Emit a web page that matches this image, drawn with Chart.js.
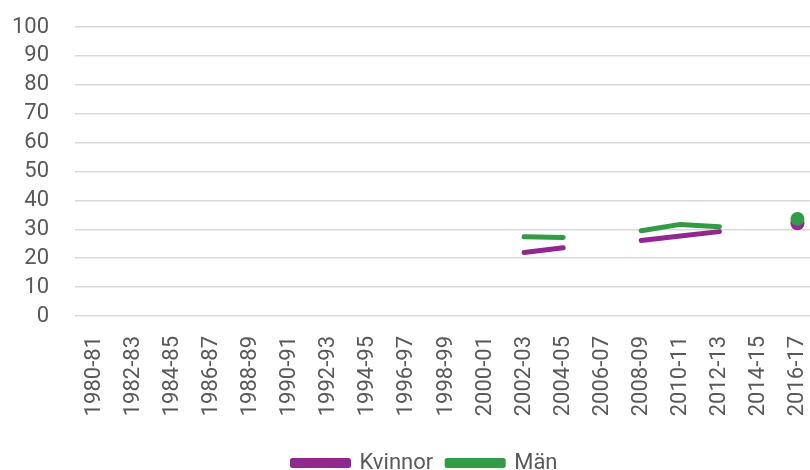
<!DOCTYPE html>
<html>
<head>
<meta charset="utf-8">
<script src="https://cdn.jsdelivr.net/npm/chart.js@4.4.1/dist/chart.umd.min.js"></script>
<style>
  html, body { margin: 0; padding: 0; background: #fff; overflow: hidden; }
  canvas { display: block; }
</style>
</head>
<body>
<canvas id="main-chart" width="824" height="484"></canvas>
<script>
// Kategorier (läsår) och värden per serie
const labels = ['1980-81', '1982-83', '1984-85', '1986-87', '1988-89', '1990-91', '1992-93', '1994-95',
    '1996-97', '1998-99', '2000-01', '2002-03', '2004-05', '2006-07', '2008-09', '2010-11', '2012-13',
    '2014-15', '2016-17'];
const kvinnor = [null, null, null, null, null, null, null, null, null, null, null, 22.0, 23.6, null, 26.1, 27.7, 29.2, null, 32.1];
const man = [null, null, null, null, null, null, null, null, null, null, null, 27.4, 27.2, null, 29.5, 31.7, 30.9, null, 33.6];
const yTicks = [0, 10, 20, 30, 40, 50, 60, 70, 80, 90, 100];

const textColor = '#595959';
const gridColor = '#d9d9d9';
const fontFamily = 'Roboto';

// Visa punkt bara där värdet saknar grannar (isolerad punkt)
function isolatedRadius(ctx) {
    const d = ctx.dataset.data;
    const i = ctx.dataIndex;
    if (d[i] == null) return 0;
    const prev = i > 0 ? d[i - 1] : null;
    const next = i < d.length - 1 ? d[i + 1] : null;
    return (prev == null && next == null) ? 7 : 0;
}

function makeSet(label, data, color, order) {
    return {
        label: label,
        data: data,
        order: order,
        borderColor: color,
        backgroundColor: color,
        borderWidth: 5,
        borderCapStyle: 'round',
        borderJoinStyle: 'round',
        tension: 0,
        spanGaps: false,
        pointRadius: isolatedRadius,
        pointHoverRadius: isolatedRadius,
        pointBorderWidth: 0
    };
}

// Flytta legenden lite åt höger, som i originalet
const legendShift = {
    id: 'legendShift',
    afterLayout(chart) {
        if (chart.legend) {
            chart.legend.left += 14;
            chart.legend.right += 14;
        }
    }
};

const ctx = document.getElementById('main-chart').getContext('2d');
new Chart(ctx, {
    type: 'line',
    data: {
        labels: labels,
        datasets: [
            makeSet('Kvinnor', kvinnor, '#92278f', 1),
            makeSet('Män', man, '#339a46', 0)   // ritas ovanpå
        ]
    },
    plugins: [legendShift],
    options: {
        responsive: false,
        animation: false,
        layout: { padding: { left: 0, right: 2, top: 27, bottom: 0 } },
        scales: {
            y: {
                min: 0,
                max: 100,
                afterBuildTicks: (axis) => { axis.ticks = yTicks.map(v => ({ value: v })); },
                afterFit: (axis) => { axis.width = 75; axis.paddingTop = 0; axis.paddingBottom = 0; },
                ticks: { color: textColor, padding: 26, autoSkip: false, font: { family: fontFamily, size: 22 } },
                grid: { color: gridColor, lineWidth: 1.5, drawTicks: false },
                border: { display: false }
            },
            x: {
                offset: true,
                afterFit: (axis) => { axis.height = 122; axis.paddingLeft = 0; axis.paddingRight = 0; },
                ticks: {
                    color: textColor,
                    minRotation: 90,
                    maxRotation: 90,
                    autoSkip: false,
                    padding: 20,
                    font: { family: fontFamily, size: 22 }
                },
                grid: { display: false, drawTicks: false },
                border: { display: false }
            }
        },
        plugins: {
            legend: {
                position: 'bottom',
                labels: {
                    color: textColor,
                    boxWidth: 56,
                    boxHeight: 5,
                    padding: 14,
                    font: { family: fontFamily, size: 22 },
                    sort: (a, b) => a.datasetIndex - b.datasetIndex
                }
            },
            tooltip: { enabled: false }
        }
    }
});
</script>
</body>
</html>
